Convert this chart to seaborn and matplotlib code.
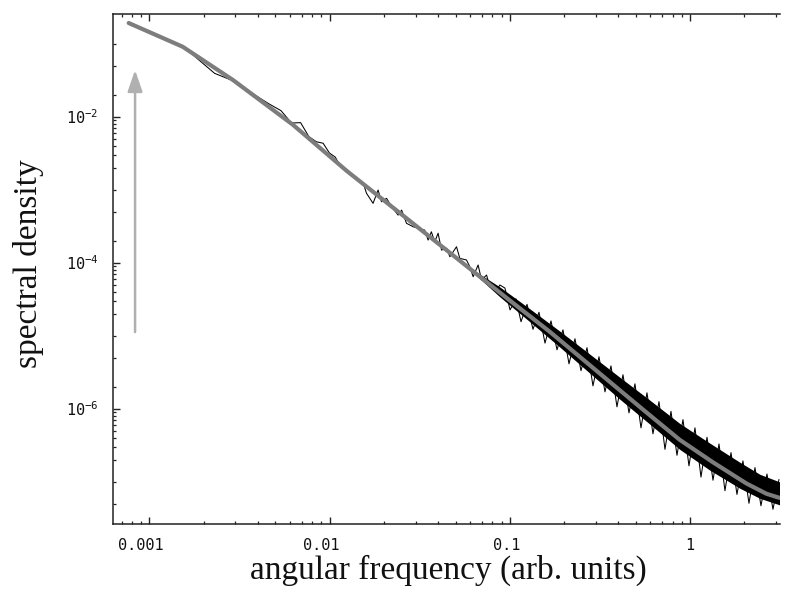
import numpy as np
import pandas as pd
import matplotlib
matplotlib.use("Agg")
import matplotlib.pyplot as plt
import matplotlib.ticker as mticker
import matplotlib.transforms as mtransforms
import seaborn as sns

# ---------------- data ----------------
# smooth gray spectrum
model_freq = [0.000767, 0.001528, 0.00291, 0.00627, 0.0124, 0.0316, 0.1, 0.1667,
              0.316, 0.562, 0.877, 1.343, 2.06, 2.66, 3.14]
model_dens = [0.1910, 0.0905, 0.03161, 0.00768, 0.001813, 2.904e-4, 3.024e-5, 1.127e-5,
              3.017e-6, 9.22e-7, 3.733e-7, 1.833e-7, 9.40e-8, 6.80e-8, 5.98e-8]

# noisy black estimate (low / mid frequencies)
noise_freq = [0.000767, 0.001534, 0.0023, 0.00307, 0.00383, 0.0046, 0.00537, 0.00614,
              0.0069, 0.00767, 0.00844, 0.0092, 0.00997, 0.01074, 0.0115, 0.01227,
              0.01304, 0.01535, 0.01603, 0.01742, 0.01858, 0.0194, 0.0207, 0.0221,
              0.0240, 0.0251, 0.0267, 0.0291, 0.0337, 0.0352, 0.0367, 0.0383,
              0.0400, 0.0418, 0.0446, 0.0465, 0.0506, 0.0528, 0.0575, 0.0600,
              0.0626, 0.0667, 0.0697, 0.0743, 0.0775, 0.0844, 0.0881]
noise_dens = [0.1933, 0.0913, 0.03906, 0.02929, 0.01988, 0.01494, 0.01205, 0.00815,
              0.00825, 0.00531, 0.00451, 0.00431, 0.003170, 0.002787, 0.002064, 0.001850,
              0.001668, 0.001222, 0.000887, 0.000647, 0.000985, 0.000680, 0.000758, 0.000581,
              0.000447, 0.000523, 0.000345, 0.000309, 0.000278, 0.000203, 0.000264, 0.000192,
              0.000252, 0.000148, 0.000157, 0.000120, 0.0001646, 0.0001143, 0.0001083, 8.76e-5,
              6.39e-5, 9.26e-5, 5.77e-5, 6.74e-5, 4.65e-5, 4.19e-5, 4.92e-5]

# noisy black estimate (high frequencies, spikes)
spike_freq = [0.0940, 0.1003, 0.1082, 0.1154, 0.1246, 0.1345, 0.1452, 0.1568, 0.1693,
              0.1828, 0.1973, 0.2131, 0.2300, 0.2484, 0.2682, 0.2895, 0.3126, 0.3375,
              0.3644, 0.3934, 0.4248, 0.4586, 0.4951, 0.5346, 0.5772, 0.6232, 0.6729,
              0.7265, 0.7844, 0.8469, 0.9144, 0.9873, 1.066, 1.151, 1.243, 1.342,
              1.449, 1.564, 1.689, 1.823, 1.968, 2.125, 2.295, 2.477, 2.675, 2.888, 3.118]
spike_dens = [4.47e-5, 2.244e-5, 3.187e-5, 1.548e-5, 2.675e-5, 1.218e-5, 2.084e-5, 7.88e-6,
              1.585e-5, 6.38e-6, 1.197e-5, 4.10e-6, 9.03e-6, 3.30e-6, 6.82e-6, 2.044e-6,
              5.12e-6, 1.693e-6, 3.84e-6, 1.056e-6, 2.904e-6, 8.73e-7, 2.181e-6, 5.44e-7,
              1.643e-6, 4.51e-7, 1.244e-6, 2.764e-7, 9.16e-7, 2.291e-7, 7.05e-7, 1.643e-7,
              5.44e-7, 1.152e-7, 4.04e-7, 1.043e-7, 3.27e-7, 7.49e-8, 2.489e-7, 6.67e-8,
              1.918e-7, 5.04e-8, 1.553e-7, 4.66e-8, 1.268e-7, 4.17e-8, 1.068e-7]

# envelope of the dense black band
band_freq = [0.0601, 0.0883, 0.1294, 0.190, 0.2786, 0.409, 0.600, 0.880, 1.291, 1.892, 2.443, 3.14]
band_hi = [8.48e-5, 4.61e-5, 2.316e-5, 1.144e-5, 5.54e-6, 2.669e-6, 1.299e-6, 6.22e-7,
           3.35e-7, 1.837e-7, 1.256e-7, 9.91e-8]
band_lo = [7.96e-5, 3.37e-5, 1.540e-5, 6.91e-6, 3.04e-6, 1.336e-6, 6.09e-7, 2.745e-7,
           1.429e-7, 8.09e-8, 5.89e-8, 4.80e-8]

# gray arrow (tail, tip)
arrow_freq = 0.000832
arrow_from = 1.117e-5
arrow_to = 0.04335

xtick_vals = [0.001, 0.01, 0.1, 1]
xtick_text = ["0.001", "0.01", "0.1", "1"]
ytick_vals = [1e-2, 1e-4, 1e-6]
ytick_text = ["10$^{-2}$", "10$^{-4}$", "10$^{-6}$"]

# ---------------- figure ----------------
sns.set_theme(style="white")
plt.rcParams["mathtext.fontset"] = "custom"
plt.rcParams["mathtext.rm"] = "DejaVu Sans Mono"
plt.rcParams["mathtext.default"] = "rm"

fig = plt.figure(figsize=(7.89, 5.95), dpi=100)
ax = fig.add_axes([0.1428, 0.1193, 0.8458, 0.8571])
ax.set_xscale("log")
ax.set_yscale("log")

ax.fill_between(band_freq, band_lo, band_hi, color="black", lw=0, zorder=2)

noise_df = pd.DataFrame({"freq": noise_freq + spike_freq, "dens": noise_dens + spike_dens})
sns.lineplot(data=noise_df, x="freq", y="dens", estimator=None, sort=False,
             color="black", lw=0.75, ax=ax, zorder=3)

model_df = pd.DataFrame({"freq": model_freq, "dens": model_dens})
sns.lineplot(data=model_df, x="freq", y="dens", estimator=None, sort=False,
             color="#7d7d7d", lw=3.0, ax=ax, zorder=4, solid_capstyle="round")

ax.annotate("", xy=(arrow_freq, arrow_to), xytext=(arrow_freq, arrow_from),
            arrowprops=dict(arrowstyle="-|>,head_length=1.3,head_width=0.45",
                            mutation_scale=10, lw=1.8, color="#b0b0b0",
                            shrinkA=0, shrinkB=0), zorder=1)

ax.set_xlim(6.25e-4, 3.16)
ax.set_ylim(2.62e-8, 0.2535)

# ticks
ax.xaxis.set_major_locator(mticker.FixedLocator(xtick_vals))
ax.xaxis.set_minor_locator(mticker.LogLocator(base=10, subs=np.arange(2, 10), numticks=20))
ax.xaxis.set_minor_formatter(mticker.NullFormatter())
ax.set_xticklabels(xtick_text, fontfamily="DejaVu Sans Mono", fontsize=11)

ax.yaxis.set_major_locator(mticker.FixedLocator(ytick_vals))
yminor = []
for e in (-2, -4, -6):
    yminor += [k * 10.0 ** (e - 1) for k in range(2, 10)]
for e in (-1, -3, -5, -7):
    yminor += [10.0 ** e, 2 * 10.0 ** (e - 1), 5 * 10.0 ** (e - 1)]
ax.yaxis.set_minor_locator(mticker.FixedLocator(yminor))
ax.yaxis.set_minor_formatter(mticker.NullFormatter())
ax.set_yticklabels(ytick_text, fontfamily="DejaVu Sans Mono", fontsize=11)

ax.tick_params(axis="both", which="major", direction="in", length=5, width=1.0,
               color="#222222", labelcolor="#111111", pad=10)
ax.tick_params(axis="both", which="minor", direction="in", length=2.5, width=0.9,
               color="#222222")
ax.tick_params(axis="x", which="both", top=True, bottom=True)
ax.tick_params(axis="y", which="both", left=True, right=False)

# the x labels of the original sit slightly left of their ticks
for lab, dx_px in zip(ax.get_xticklabels(), [-9, -8, -3.5, 0]):
    lab.set_transform(lab.get_transform() +
                      mtransforms.ScaledTranslation(dx_px / 100.0, 0, fig.dpi_scale_trans))

for side in ("left", "bottom", "top"):
    ax.spines[side].set_color("#222222")
    ax.spines[side].set_linewidth(1.1)
ax.spines["right"].set_visible(False)

ax.set_xlabel("angular frequency (arb. units)", fontfamily="Liberation Serif",
              fontsize=24, color="#111111")
ax.set_ylabel("spectral density", fontfamily="Liberation Serif", fontsize=24,
              color="#111111")
ax.xaxis.set_label_coords(0.503, -0.06)
ax.yaxis.set_label_coords(-0.103, 0.51)

fig.savefig("out.png", dpi=100, facecolor="white")
